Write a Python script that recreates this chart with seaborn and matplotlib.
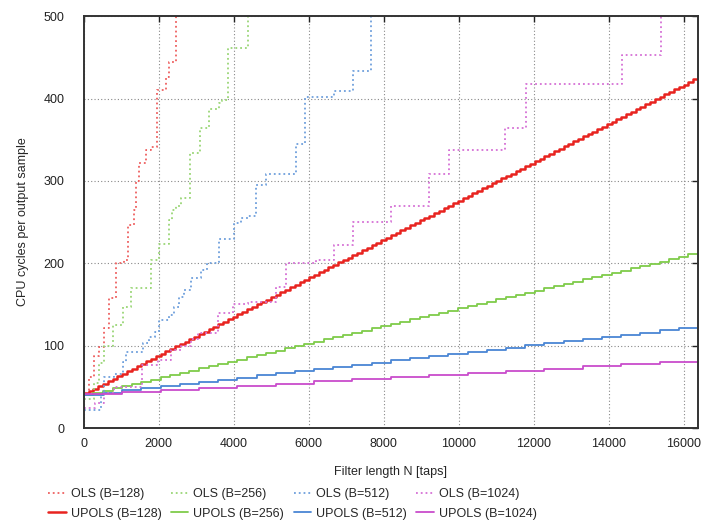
import numpy as np
import pandas as pd
import seaborn as sns
import matplotlib.pyplot as plt

# --- Data ---
# OLS: irregular staircases (breakpoint taps, level held until next breakpoint)
ols128_n = [0, 130, 270, 400, 530, 670, 850, 1070, 1170, 1330, 1390, 1470, 1650, 1790, 1950, 2190, 2270, 2450]
ols128_v = [40, 62, 88, 98, 121, 158, 200, 204, 246, 265, 300, 322, 337, 341, 410, 426, 444, 520]

ols256_n = [0, 270, 400, 530, 770, 1040, 1250, 1790, 2000, 2270, 2350, 2450, 2590, 2830, 3090, 3330, 3600, 3700, 3840, 4370]
ols256_v = [35, 55, 79, 100, 125, 147, 170, 204, 224, 252, 265, 270, 279, 334, 364, 387, 394, 398, 461, 520]

ols512_n = [0, 450, 530, 800, 1040, 1120, 1570, 1750, 1900, 2000, 2270, 2400, 2530, 2670, 2850, 3120, 3300,
            3600, 4000, 4200, 4370, 4590, 4850, 5650, 5890, 6670, 7170, 7650]
ols512_v = [22, 40, 62, 66, 80, 92, 103, 110, 117, 131, 137, 147, 159, 167, 182, 192, 200,
            230, 249, 255, 258, 295, 308, 345, 402, 409, 433, 520]

ols1024_n = [0, 300, 530, 800, 1550, 1970, 2320, 2590, 2850, 3040, 3570, 3970, 4370, 5120, 5390, 6190,
             6670, 7170, 8190, 9200, 9730, 11250, 11790, 14350, 15390]
ols1024_v = [24, 30, 42, 50, 76, 82, 95, 99, 108, 115, 140, 150, 153, 171, 200, 204,
             222, 250, 269, 309, 338, 364, 418, 453, 520]

# UPOLS: one level per partition of B taps
upols128 = [42, 45, 48, 51, 54, 57, 60, 63, 66, 69, 72, 75, 78, 81, 84, 87,
            90, 93, 96, 99, 102, 105, 108, 111, 114, 117, 120, 123, 126, 129, 132, 135,
            138, 141, 144, 147, 150, 153, 156, 159, 162, 165, 168, 171, 174, 177, 180, 183,
            186, 189, 192, 195, 198, 201, 204, 207, 210, 213, 216, 219, 222, 225, 228, 231,
            234, 237, 240, 243, 246, 249, 252, 255, 258, 261, 264, 267, 270, 273, 276, 279,
            282, 285, 288, 291, 294, 297, 300, 303, 306, 309, 312, 315, 318, 321, 324, 327,
            330, 333, 336, 339, 342, 345, 348, 351, 354, 357, 360, 363, 366, 369, 372, 375,
            378, 381, 384, 387, 390, 393, 396, 399, 402, 405, 408, 411, 414, 417, 420, 424]
upols256 = [40, 42.7, 45.4, 48.1, 50.8, 53.5, 56.2, 58.9, 61.6, 64.3, 67, 69.7, 72.4, 75.1, 77.8, 80.5,
            83.2, 85.9, 88.6, 91.3, 94, 96.7, 99.4, 102.1, 104.8, 107.5, 110.2, 112.9, 115.6, 118.3, 121, 123.7,
            126.4, 129.1, 131.8, 134.5, 137.2, 139.9, 142.6, 145.3, 148, 150.7, 153.4, 156.1, 158.8, 161.5, 164.2, 166.9,
            169.6, 172.3, 175, 177.7, 180.4, 183.1, 185.8, 188.5, 191.2, 193.9, 196.6, 199.3, 202, 204.7, 207.4, 211]
upols512 = [40.5, 43.1, 45.7, 48.3, 50.9, 53.5, 56.1, 58.7, 61.3, 63.9, 66.5, 69.1, 71.7, 74.3, 76.9, 79.5,
            82.1, 84.7, 87.3, 89.9, 92.5, 95.1, 97.7, 100.3, 102.9, 105.5, 108.1, 110.7, 113.3, 115.9, 118.5, 122]
upols1024 = [41, 43.6, 46.2, 48.8, 51.4, 54, 56.6, 59.2, 61.8, 64.4, 67, 69.6, 72.2, 74.8, 77.4, 80.5]

block_sizes = [128, 256, 512, 1024]
colors = ["#e8231f", "#7fcc4a", "#4a86d4", "#c94ccc"]
ols_colors = ["#ee6060", "#9ad676", "#6e9fdc", "#d570d5"]

# --- Plot ---
sns.set_theme(style="white")
plt.rcParams["font.family"] = ["Liberation Sans", "DejaVu Sans"]

fig = plt.figure(figsize=(7.10, 5.22), dpi=100)
ax = fig.add_axes([0.118, 0.180, 0.865, 0.789])

ols = [(ols128_n, ols128_v), (ols256_n, ols256_v), (ols512_n, ols512_v), (ols1024_n, ols1024_v)]
upols = [upols128, upols256, upols512, upols1024]

handles = []
for B, (n, v), up, c, oc in zip(block_sizes, ols, upols, colors, ols_colors):
    sns.lineplot(x=n, y=v, ax=ax, color=oc, linestyle=":", linewidth=1.3,
                 drawstyle="steps-post", sort=False, estimator=None, legend=False)
    h_ols = ax.lines[-1]
    h_ols.set_label(f"OLS (B={B})")
    x_up = np.arange(len(up) + 1) * B
    y_up = list(up) + [up[-1]]
    sns.lineplot(x=x_up, y=y_up, ax=ax, color=c, linestyle="-",
                 linewidth=1.8 if B == 128 else 1.3,
                 drawstyle="steps-post", sort=False, estimator=None, legend=False)
    h_up = ax.lines[-1]
    h_up.set_label(f"UPOLS (B={B})")
    handles += [h_ols, h_up]

ax.set_xlim(0, 16384)
ax.set_ylim(0, 500)
ax.set_xticks(range(0, 16001, 2000))
ax.set_yticks(range(0, 501, 100))
ax.grid(True, linestyle=(0, (1, 2)), color="#888888", linewidth=0.8)
ax.tick_params(direction="in", length=4, width=1, top=True, right=True,
               labelsize=9, colors="#222222")
ax.tick_params(axis="x", pad=7)
ax.tick_params(axis="y", pad=14)
for s in ax.spines.values():
    s.set_color("#333333")
    s.set_linewidth(1.4)

ax.set_xlabel("Filter length N [taps]", fontsize=9, labelpad=12)
ax.set_ylabel("CPU cycles per output sample", fontsize=9, labelpad=10)

fig.legend(handles=handles, ncol=4, loc="upper left", bbox_to_anchor=(0.061, 0.074),
           frameon=False, fontsize=9, handlelength=1.4, columnspacing=0.75,
           labelspacing=0.6, handletextpad=0.4, borderaxespad=0)

fig.savefig("out.png", dpi=100)
plt.close(fig)
